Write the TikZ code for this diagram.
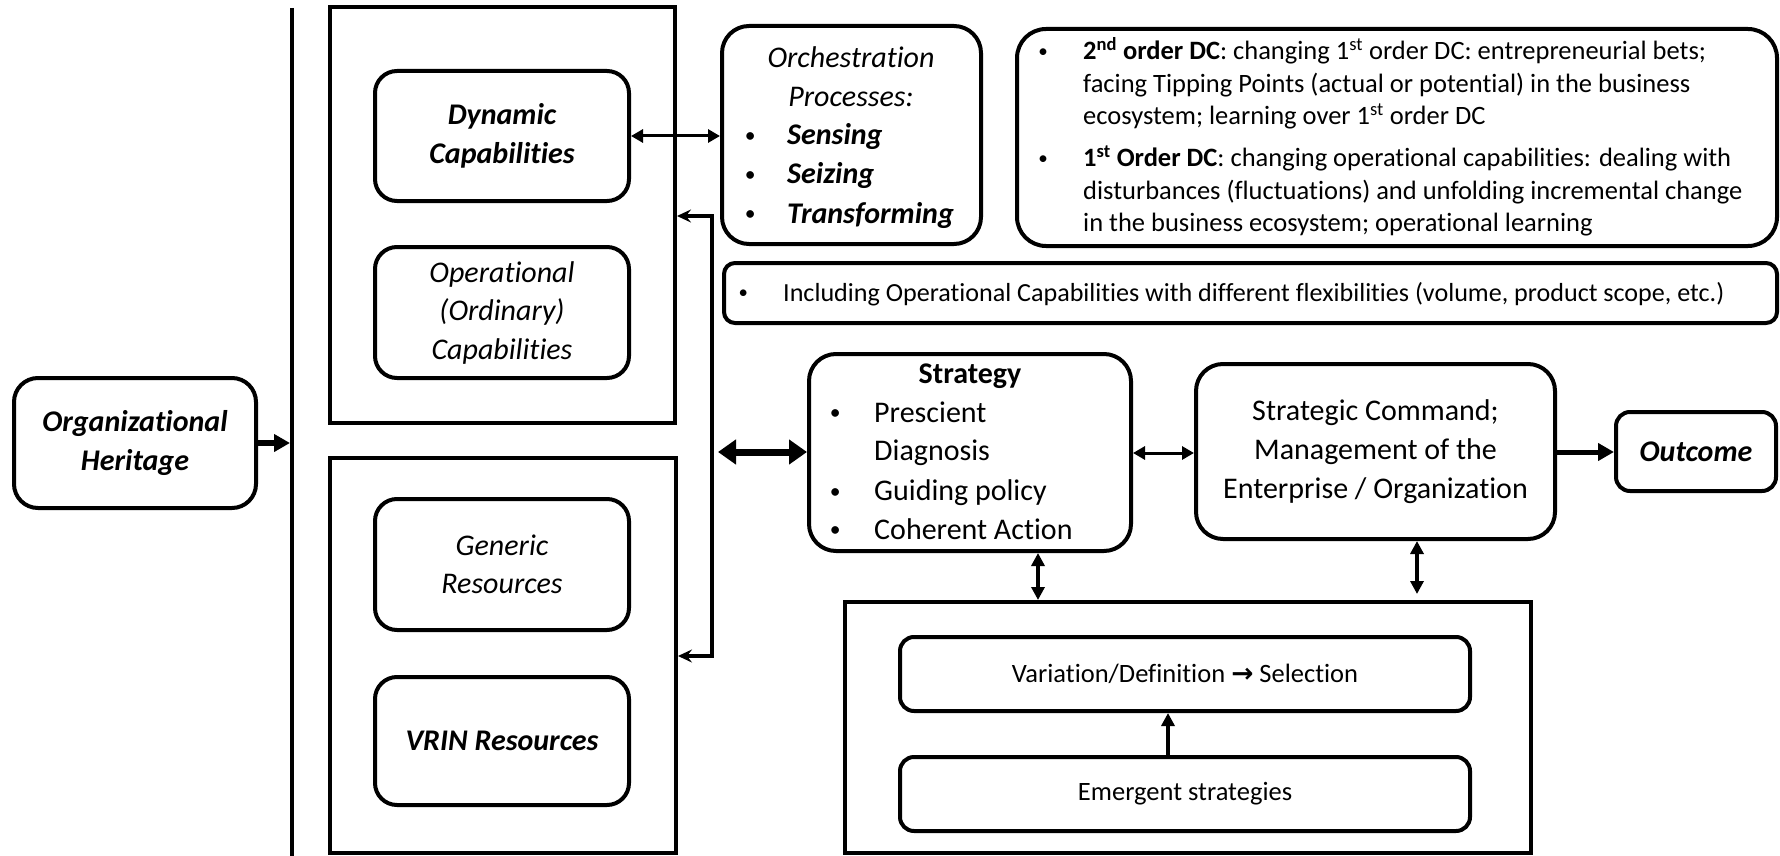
\documentclass[tikz,border=0pt]{standalone}
\usepackage{fontspec}
\setmainfont{Carlito}[Ligatures={NoCommon},Contextuals={NoAlternate}]
\newfontfamily\dejavu{DejaVu Sans}
\usetikzlibrary{arrows.meta}
\newcommand{\bul}{\makebox[0pt]{\raisebox{0.08em}{\scalebox{0.72}{\mdseries\upshape •}}}}
\begin{document}
\begin{tikzpicture}[x=1pt,y=-1pt,
  cont/.style={draw, line width=4pt, rectangle, inner sep=0pt},
  rbox/.style={draw, line width=4pt, rectangle, inner sep=0pt, align=center},
  fbi/.style={font=\fontsize{30}{39}\selectfont\bfseries\itshape},
  fi/.style={font=\fontsize{30}{38.5}\selectfont\itshape},
  fr/.style={font=\fontsize{30}{39}\selectfont},
  fs/.style={font=\fontsize{26.5}{32.5}\selectfont},
  txt/.style={inner sep=0pt},
  darr/.style={line width=3pt, {Triangle[length=12pt,width=13pt]}-{Triangle[length=12pt,width=13pt]}},
  varr/.style={line width=4pt, {Triangle[length=13pt,width=13pt]}-{Triangle[length=13pt,width=13pt]}},
  uarr/.style={line width=4pt, -{Triangle[length=13pt,width=13pt]}},
  elbarr/.style={line width=4pt, {Stealth[length=14pt,width=13pt,inset=5pt]}-{Stealth[length=14pt,width=13pt,inset=5pt]}},
  bigarr/.style={line width=7pt, {Triangle[length=18pt,width=24pt]}-{Triangle[length=18pt,width=24pt]}},
  thkarr/.style={line width=5.5pt, -{Triangle[length=16pt,width=17pt]}}
]
\useasboundingbox (0,0) rectangle (1780,856);

% vertical divider
\coordinate (vtop) at (292,8);
\coordinate (vbot) at (292,860);
\draw[line width=4pt] (vtop) -- (vbot);

% containers
\node[cont, minimum width=345pt, minimum height=416pt] (capc) at (502.5,215) {};
\node[cont, minimum width=346pt, minimum height=395pt] (resc) at (503,655.5) {};
\node[cont, minimum width=686pt, minimum height=251pt] (botc) at (1188,727.5) {};

% capability and resource boxes
\node[rbox, fbi, rounded corners=22pt, minimum width=254pt, minimum height=130pt] (dcap) at (502,136) {Dynamic\\Capabilities};
\node[rbox, fi, rounded corners=22pt, minimum width=254pt, minimum height=131pt] (opcap) at (502,312.5) {Operational\\(Ordinary)\\Capabilities};
\node[rbox, fi, rounded corners=22pt, minimum width=254pt, minimum height=131pt] (gen) at (502,564.5) {Generic\\Resources};
\node[rbox, fbi, rounded corners=22pt, minimum width=254pt, minimum height=128pt] (vrin) at (502,741) {VRIN Resources};

% heritage
\node[rbox, fbi, rounded corners=24pt, minimum width=242pt, minimum height=130pt] (herit) at (135,443) {Organizational\\Heritage};

% orchestration
\node[rbox, rounded corners=27pt, minimum width=259pt, minimum height=218pt] (orch) at (851.5,135) {};
\node[fi, txt, anchor=base] (orchT) at (851,68) {\begin{tabular}[t]{@{}c@{}}Orchestration\\Processes:\end{tabular}};
\node[fbi, txt, anchor=base west] (orchL) at (750,145) {\begin{tabular}[t]{@{}l@{\hspace{37pt}}l@{}}\bul & Sensing\\ \bul & Seizing\\ \bul & Transforming\end{tabular}};

% DC description
\node[rbox, rounded corners=29pt, minimum width=760pt, minimum height=217pt] (dctext) at (1397,137.5) {};
\node[fs, txt, anchor=base west] (dcT) at (1043,60) {\begin{tabular}[t]{@{}l@{\hspace{40pt}}l@{}}
\bul & \textbf{2\textsuperscript{nd} order DC}: changing 1\textsuperscript{st} order DC: entrepreneurial bets;\\
 & facing Tipping Points (actual or potential) in the business\\
 & ecosystem; learning over 1\textsuperscript{st} order DC\\[9.5pt]
\bul & \textbf{1\textsuperscript{st} Order DC}: changing operational capabilities: dealing with\\
 & disturbances (fluctuations) and unfolding incremental change\\
 & in the business ecosystem; operational learning
\end{tabular}};

% including box
\node[rbox, rounded corners=11pt, minimum width=1053pt, minimum height=60pt] (incl) at (1250.5,293) {};
\node[txt, font=\fontsize{26.1}{32}\selectfont, anchor=base west] (inclT) at (743,301) {\bul\hspace{40pt}Including Operational Capabilities with different flexibilities (volume, product scope, etc.)};

% strategy
\node[rbox, rounded corners=27pt, minimum width=322pt, minimum height=197pt] (strat) at (970,452.5) {};
\node[txt, font=\fontsize{30}{39}\selectfont\bfseries, anchor=base] (stratT) at (970,383) {Strategy};
\node[txt, font=\fontsize{30}{38.5}\selectfont, anchor=base west] (stratL) at (835,422) {\begin{tabular}[t]{@{}l@{\hspace{39pt}}l@{}}
\bul & Prescient\\
 & Diagnosis\\[1.5pt]
\bul & Guiding policy\\
\bul & Coherent Action
\end{tabular}};

% strategic command
\node[rbox, fr, rounded corners=27pt, minimum width=359pt, minimum height=175pt] (cmd) at (1375.5,451.5) {Strategic Command;\\Management of the\\Enterprise / Organization};

% outcome
\node[rbox, font=\fontsize{30}{39}\selectfont\bfseries\itshape, rounded corners=14pt, minimum width=160pt, minimum height=79pt] (outc) at (1696,451.5) {Outcome};

% inner boxes of bottom container
\node[rbox, fs, rounded corners=14pt, minimum width=570pt, minimum height=74pt] (var) at (1185,674) {Variation/Definition {\dejavu\bfseries →} Selection};
\node[rbox, fs, rounded corners=14pt, minimum width=570pt, minimum height=74pt] (emer) at (1185,794) {Emergent strategies};

% connectors
\coordinate (hl) at (290,443);
\draw[thkarr] (herit.east |- hl) -- (hl);

\draw[darr] (dcap.east) -- (orch.west |- dcap.east);

\coordinate (e1) at (712,216);
\coordinate (e2) at (712,656);
\draw[elbarr] (capc.east |- e1) -- (e1) -- (e2) -- (resc.east |- e2);

\coordinate (bigL) at (718,452);
\draw[bigarr] (bigL) -- (strat.west |- bigL);

\coordinate (sc) at (0,453);
\draw[darr] (strat.east |- sc) -- (cmd.west |- sc);

\coordinate (oc) at (0,452);
\draw[thkarr, line width=5pt] (cmd.east |- oc) -- (outc.west |- oc);

\coordinate (v1) at (1038,0);
\draw[varr] (strat.south -| v1) -- (botc.north -| v1);

\coordinate (v2end) at (1417,594);
\draw[varr] (cmd.south -| v2end) -- (v2end);

\coordinate (ev) at (1168,0);
\draw[uarr] (emer.north -| ev) -- (var.south -| ev);
\end{tikzpicture}
\end{document}
